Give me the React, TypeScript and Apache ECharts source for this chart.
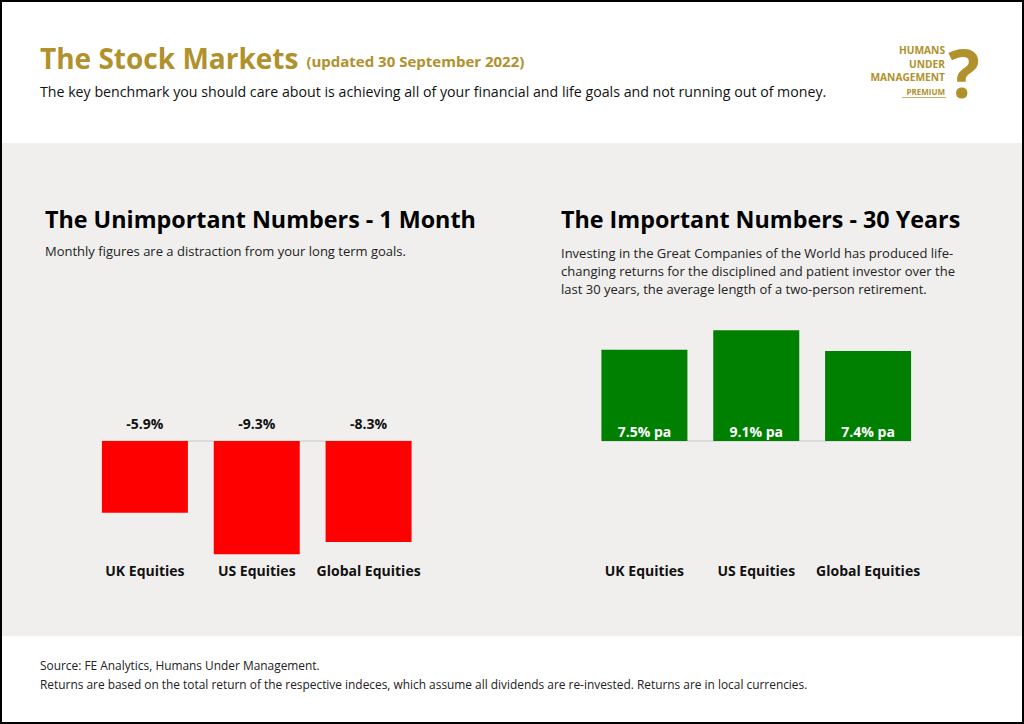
import React, { useEffect, useRef } from "react";
import * as echarts from "echarts";

const categories = ["UK Equities", "US Equities", "Global Equities"];
const monthReturns = [-5.9, -9.3, -8.3];
const thirtyYearReturns = [7.5, 9.1, 7.4];

const GOLD = "#B0912B";
const FONT = "'Open Sans'";

export default function App() {
  const ref = useRef<HTMLDivElement>(null);
  useEffect(() => {
    document.body.style.margin = "0";
    const chart = echarts.init(ref.current!, null, { renderer: "svg" });
    const yMin = -10;
    const yMax = 10;
    const gridTop = 319.3;
    const gridH = 243.4;
    const mkGrid = (left: number) => ({ left, top: gridTop, width: 335.5, height: gridH });
    const mkX = (gi: number) => ({
      type: "category",
      gridIndex: gi,
      data: categories,
      axisLine: { show: false },
      axisTick: { show: false },
      axisLabel: { interval: 0, margin: 1, color: "#111", fontFamily: FONT, fontWeight: "bold", fontSize: 14 },
    });
    const mkY = (gi: number) => ({
      type: "value",
      gridIndex: gi,
      min: yMin,
      max: yMax,
      show: false,
      splitLine: { show: false },
    });
    const para = `13px ${FONT}`;
    const headerText = [
      { type: "rect", z: -10, shape: { x: 0, y: 0, width: 1024, height: 724 }, style: { fill: "#fff" } },
      { type: "rect", z: -5, shape: { x: 2, y: 143, width: 1020, height: 493 }, style: { fill: "#F0EFEE" } },
      { type: "rect", z: 10, shape: { x: 1, y: 1, width: 1022, height: 722 }, style: { fill: "none", stroke: "#000", lineWidth: 2 } },
      {
        type: "text",
        x: 40,
        y: 58,
        style: {
          text: "{a|The Stock Markets}{b|(updated 30 September 2022)}",
          textVerticalAlign: "middle",
          rich: {
            a: { fill: GOLD, fontFamily: FONT, fontWeight: "bold", fontSize: 28, verticalAlign: "bottom" },
            b: { fill: GOLD, fontFamily: FONT, fontWeight: "bold", fontSize: 15, verticalAlign: "bottom", padding: [0, 0, 4, 8] },
          },
        },
      },
      { type: "text", x: 40, y: 91, style: { text: "The key benchmark you should care about is achieving all of your financial and life goals and not running out of money.", fill: "#111", font: `14.2px ${FONT}`, textVerticalAlign: "middle" } },
      { type: "text", x: 945, y: 50, style: { text: "HUMANS", fill: GOLD, font: `bold 10.2px ${FONT}`, textAlign: "right", textVerticalAlign: "middle" } },
      { type: "text", x: 945, y: 63.5, style: { text: "UNDER", fill: GOLD, font: `bold 10.2px ${FONT}`, textAlign: "right", textVerticalAlign: "middle" } },
      { type: "text", x: 945, y: 77, style: { text: "MANAGEMENT", fill: GOLD, font: `bold 10.2px ${FONT}`, textAlign: "right", textVerticalAlign: "middle" } },
      { type: "text", x: 945, y: 91, style: { text: "PREMIUM", fill: GOLD, font: `bold 8px ${FONT}`, textAlign: "right", textVerticalAlign: "middle" } },
      { type: "line", shape: { x1: 902, y1: 97.5, x2: 946, y2: 97.5 }, style: { stroke: GOLD, lineWidth: 0.7 } },
      { type: "text", x: 964, y: 72, style: { text: "?", fill: GOLD, font: `bold 66px ${FONT}`, textAlign: "center", textVerticalAlign: "middle" } },
      { type: "text", x: 45, y: 219, style: { text: "The Unimportant Numbers - 1 Month", fill: "#000", font: `bold 23.3px ${FONT}`, textVerticalAlign: "middle" } },
      { type: "text", x: 45, y: 251, style: { text: "Monthly figures are a distraction from your long term goals.", fill: "#222", font: para, textVerticalAlign: "middle" } },
      { type: "text", x: 561, y: 219, style: { text: "The Important Numbers - 30 Years", fill: "#000", font: `bold 23.3px ${FONT}`, textVerticalAlign: "middle" } },
      { type: "text", x: 561, y: 253, style: { text: "Investing in the Great Companies of the World has produced life-", fill: "#222", font: para, textVerticalAlign: "middle" } },
      { type: "text", x: 561, y: 271, style: { text: "changing returns for the disciplined and patient investor over the", fill: "#222", font: para, textVerticalAlign: "middle" } },
      { type: "text", x: 561, y: 289, style: { text: "last 30 years, the average length of a two-person retirement.", fill: "#222", font: para, textVerticalAlign: "middle" } },
      { type: "text", x: 40, y: 665, style: { text: "Source: FE Analytics, Humans Under Management.", fill: "#222", font: `11.9px ${FONT}`, textVerticalAlign: "middle" } },
      { type: "text", x: 40, y: 684, style: { text: "Returns are based on the total return of the respective indeces, which assume all dividends are re-invested. Returns are in local currencies.", fill: "#222", font: `11.9px ${FONT}`, textVerticalAlign: "middle" } },
    ];
    chart.setOption({
      animation: false,
      backgroundColor: "transparent",
      grid: [mkGrid(89), mkGrid(588.5)],
      xAxis: [mkX(0), mkX(1)],
      yAxis: [mkY(0), mkY(1)],
      graphic: { elements: headerText },
      series: [
        {
          type: "bar",
          xAxisIndex: 0,
          yAxisIndex: 0,
          data: monthReturns,
          barWidth: 86,
          itemStyle: { color: "#FF0000" },
          label: {
            show: true,
            position: "top",
            distance: 11,
            formatter: (p: any) => `${p.value.toFixed(1)}%`,
            color: "#111",
            fontFamily: FONT,
            fontWeight: "bold",
            fontSize: 14,
          },
        },
        {
          type: "bar",
          xAxisIndex: 1,
          yAxisIndex: 1,
          data: thirtyYearReturns,
          barWidth: 86,
          itemStyle: { color: "#008000" },
          label: {
            show: true,
            position: "insideBottom",
            distance: 3,
            formatter: (p: any) => `${p.value.toFixed(1)}% pa`,
            color: "#fff",
            fontFamily: FONT,
            fontWeight: "bold",
            fontSize: 14,
          },
        },
      ],
    });
    const lines: any[] = [];
    [0, 1].forEach((gi) => {
      const a = chart.convertToPixel({ gridIndex: gi }, [0, 0]) as number[];
      const b = chart.convertToPixel({ gridIndex: gi }, [categories.length - 1, 0]) as number[];
      lines.push({
        type: "line",
        z: 1,
        shape: { x1: a[0] - 43, y1: a[1], x2: b[0] + 43, y2: b[1] },
        style: { stroke: "#C8C8C8", lineWidth: 1 },
      });
    });
    chart.setOption({ graphic: { elements: [...headerText, ...lines] } });
    return () => chart.dispose();
  }, []);
  return <div ref={ref} style={{ position: "absolute", left: 0, top: 0, width: 1024, height: 724 }} />;
}
